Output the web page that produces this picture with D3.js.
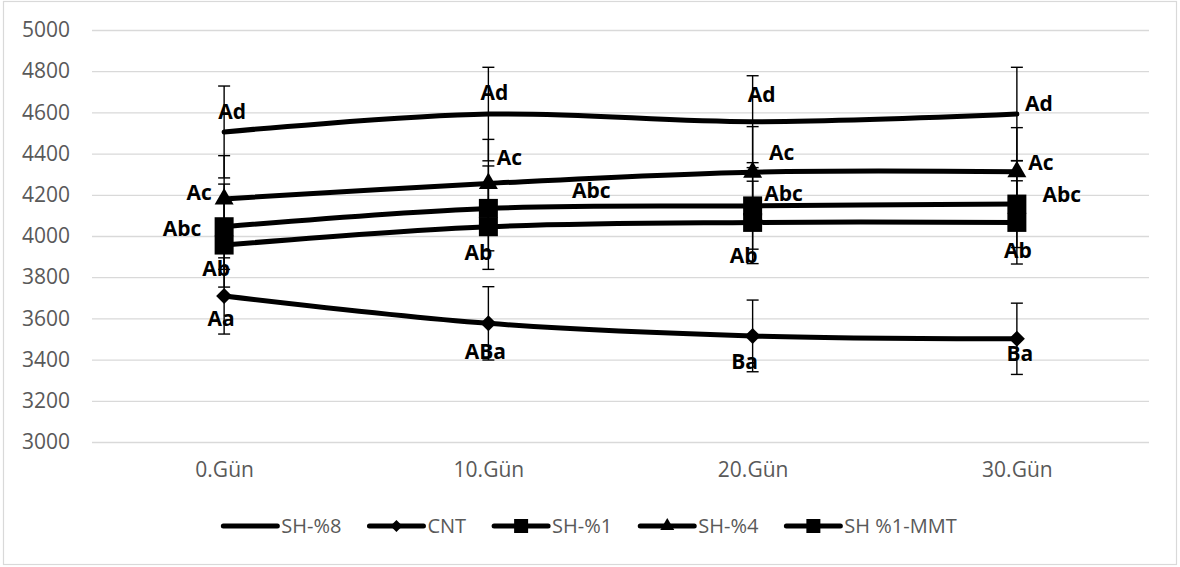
<!DOCTYPE html>
<html>
<head>
<meta charset="utf-8">
<script src="https://cdn.jsdelivr.net/npm/d3@7"></script>
<style>
	body { margin: 0; background: #fff; }
	svg { display: block; font-family: "Open Sans", sans-serif; }
</style>
</head>
<body>
<div id="chart"></div>
<script>

// chart values
const days = ["0.Gün", "10.Gün", "20.Gün", "30.Gün"]
const yTicks = [3000, 3200, 3400, 3600, 3800, 4000, 4200, 4400, 4600, 4800, 5000]

const seriesNames = ["SH-%8", "CNT", "SH-%1", "SH-%4", "SH %1-MMT"]
const seriesMarkers = ["none", "diamond", "square", "triangle", "square"]

const sh8Values = [4505, 4592, 4555, 4592]
const cntValues = [3709, 3576, 3515, 3501]
const sh1Values = [3956, 4045, 4066, 4066]
const sh4Values = [4180, 4255, 4310, 4312]
const mmtValues = [4045, 4134, 4146, 4155]

const sh8Errors = [223, 227, 223, 227]
const cntErrors = [185, 178, 174, 173]
const sh1Errors = [204, 207, 200, 202]
const sh4Errors = [210, 214, 221, 214]
const mmtErrors = [207, 206, 210, 211]

const sh8Labels = ["Ad", "Ad", "Ad", "Ad"]
const cntLabels = ["Aa", "ABa", "Ba", "Ba"]
const sh1Labels = ["Ab", "Ab", "Ab", "Ab"]
const sh4Labels = ["Ac", "Ac", "Ac", "Ac"]
const mmtLabels = ["Abc", "Abc", "Abc", "Abc"]

// where each data label sits relative to its point (px)
const labelOffsets = [
	[[8, -20], [6, -21], [9, -27], [22, -10]],
	[[-3, 23], [-3, 28], [-8, 26], [3, 15]],
	[[-8, 24], [-10, 26], [-9, 33], [1, 28]],
	[[-25, -6], [21, -26], [29, -19], [24, -9]],
	[[-42, 2], [103, -18], [31, -12], [45, -9]]
]

const allValues = [sh8Values, cntValues, sh1Values, sh4Values, mmtValues]
const allErrors = [sh8Errors, cntErrors, sh1Errors, sh4Errors, mmtErrors]
const allLabels = [sh8Labels, cntLabels, sh1Labels, sh4Labels, mmtLabels]

const width = 1180
const height = 567
const plot = {left: 92, right: 1149, top: 30, bottom: 442}

const svg = d3.select('#chart').append('svg')
	.attr('width', width)
	.attr('height', height)

svg.append('rect')
	.attr('x', 3.5).attr('y', 1.5)
	.attr('width', 1173).attr('height', 563)
	.attr('fill', 'white')
	.attr('stroke', '#d9d9d9')
	.attr('stroke-width', 1.2)

const x = d3.scalePoint()
	.domain(days)
	.range([plot.left, plot.right])
	.padding(0.5)

const y = d3.scaleLinear()
	.domain([3000, 5000])
	.range([plot.bottom, plot.top])

// gridlines
const yGrid = d3.axisLeft(y)
	.tickValues(yTicks)
	.tickFormat('')
	.tickSize(-(plot.right - plot.left))

const gridGroup = svg.append('g')
	.attr('class', 'grid')
	.attr('transform', 'translate(' + plot.left + ', 0)')
	.call(yGrid)
gridGroup.select('.domain').remove()
gridGroup.selectAll('line').attr('stroke', '#d9d9d9').attr('stroke-width', 1.3)

// y labels
const yAxis = d3.axisLeft(y)
	.tickValues(yTicks)
	.tickFormat(d3.format('d'))
	.tickSize(0)
	.tickPadding(22)
const yAxisGroup = svg.append('g')
	.attr('transform', 'translate(' + plot.left + ', 0)')
	.call(yAxis)
yAxisGroup.select('.domain').remove()
yAxisGroup.selectAll('text')
	.attr('fill', '#595959')
	.style('font-size', '21px')
	.style('font-family', '"Open Sans", sans-serif')

// x labels
const xAxis = d3.axisBottom(x).tickSize(0).tickPadding(20)
const xAxisGroup = svg.append('g')
	.attr('transform', 'translate(0, ' + plot.bottom + ')')
	.call(xAxis)
xAxisGroup.select('.domain').remove()
xAxisGroup.selectAll('text')
	.attr('fill', '#595959')
	.style('font-size', '21px')
	.style('font-family', '"Open Sans", sans-serif')

function markerPath(type, size) {
	if (type == 'square') return d3.symbol(d3.symbolSquare, size * size)()
	if (type == 'triangle') return d3.symbol(d3.symbolTriangle, Math.sqrt(3) / 4 * size * size)()
	if (type == 'diamond') return d3.symbol(d3.symbolSquare, size * size / 2)()
	return null
}

const line = d3.line()
	.x((d, i) => x(days[i]))
	.y(d => y(d))
	.curve(d3.curveCardinal.tension(0))

const seriesGroup = svg.append('g')

// error bars first, then lines and markers
allValues.forEach(function(values, s) {
	const errs = allErrors[s]
	const eb = seriesGroup.append('g').attr('class', 'errors')
	values.forEach(function(v, i) {
		const cx = x(days[i])
		eb.append('line')
			.attr('x1', cx).attr('x2', cx)
			.attr('y1', y(v + errs[i])).attr('y2', y(v - errs[i]))
			.attr('stroke', 'black').attr('stroke-width', 1.4)
		;[v + errs[i], v - errs[i]].forEach(function(e) {
			eb.append('line')
				.attr('x1', cx - 6).attr('x2', cx + 6)
				.attr('y1', y(e)).attr('y2', y(e))
				.attr('stroke', 'black').attr('stroke-width', 1.4)
		})
	})
})

allValues.forEach(function(values, s) {
	seriesGroup.append('path')
		.datum(values)
		.attr('fill', 'none')
		.attr('stroke', 'black')
		.attr('stroke-width', 5)
		.attr('stroke-linecap', 'round')
		.attr('d', line)

	const type = seriesMarkers[s]
	if (type == 'none') return
	const size = type == 'diamond' ? 16 : 19
	seriesGroup.selectAll(null)
		.data(values)
		.enter()
		.append('path')
		.attr('d', markerPath(type, size))
		.attr('fill', 'black')
		.attr('transform', (d, i) => 'translate(' + x(days[i]) + ',' + y(d) + ')' + (type == 'diamond' ? ' rotate(45)' : ''))
})

// data labels
allValues.forEach(function(values, s) {
	values.forEach(function(v, i) {
		const off = labelOffsets[s][i]
		svg.append('text')
			.attr('x', x(days[i]) + off[0])
			.attr('y', y(v) + off[1])
			.attr('dy', '0.35em')
			.attr('text-anchor', 'middle')
			.attr('font-weight', 'bold')
			.style('font-size', '21px')
			.attr('fill', 'black')
			.text(allLabels[s][i])
	})
})

// legend
const legend = svg.append('g')
const legendY = 526
let cursor = 0
seriesNames.forEach(function(name, s) {
	const item = legend.append('g').attr('transform', 'translate(' + cursor + ', 0)')
	item.append('line')
		.attr('x1', 0).attr('x2', 54)
		.attr('y1', legendY).attr('y2', legendY)
		.attr('stroke', 'black').attr('stroke-width', 5)
		.attr('stroke-linecap', 'round')
	const type = seriesMarkers[s]
	if (type != 'none') {
		item.append('path')
			.attr('d', markerPath(type, type == 'diamond' ? 12 : 14))
			.attr('fill', 'black')
			.attr('transform', 'translate(27,' + legendY + ')' + (type == 'diamond' ? ' rotate(45)' : ''))
	}
	const label = item.append('text')
		.attr('x', 58)
		.attr('y', legendY)
		.attr('dy', '0.35em')
		.attr('fill', '#595959')
		.style('font-size', '20px')
		.text(name)
	cursor += 58 + label.node().getComputedTextLength() + 28
})
const legendWidth = cursor - 28
legend.attr('transform', 'translate(' + (width / 2 - legendWidth / 2) + ', 0)')

</script>
</body>
</html>
